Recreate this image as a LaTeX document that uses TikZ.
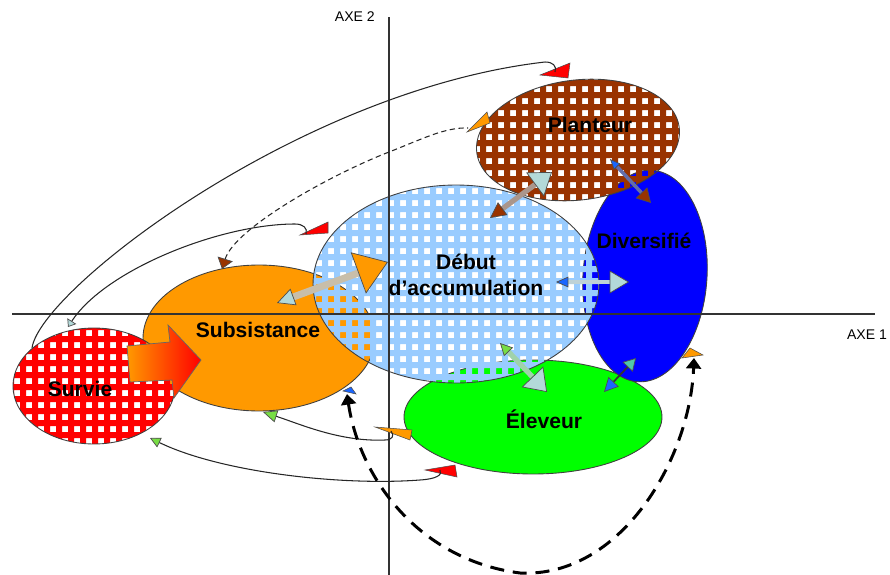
\documentclass[tikz,border=0pt]{standalone}
\usepackage{fontspec}
\setmainfont{Liberation Sans}
\usepackage{xcolor}
\usepackage{tikz}
\usetikzlibrary{shapes.geometric, arrows.meta}

\definecolor{orangesub}{HTML}{FF9900}
\definecolor{bleudeb}{HTML}{99CCFF}
\definecolor{brunplant}{HTML}{993300}
\definecolor{rougesurv}{HTML}{FF0000}
\definecolor{vertelev}{HTML}{00FF00}
\definecolor{bleudiv}{HTML}{0000FF}
\definecolor{tealhead}{HTML}{B3D9D9}
\definecolor{greenhead}{HTML}{77DD44}
\definecolor{bluehead}{HTML}{1A66FF}
\definecolor{edge}{HTML}{4D4D4D}

\begin{document}
\begin{tikzpicture}[
    x=0.02cm, y=-0.02cm,
    every node/.style={font=\fontsize{12}{15}\selectfont\bfseries, align=center},
    zone/.style={ellipse, draw=black!75, line width=0.5pt, inner sep=0pt},
    holes/.style={even odd rule},
    axis/.style={draw=black!80, line width=0.7pt},
    axlabel/.style={font=\fontsize{8}{9}\selectfont},
    link/.style={draw=black!85, line width=0.6pt},
    wedge/.style={draw=black!70, line width=0.3pt},
    shaft/.style={line width=#1}
]
\useasboundingbox (0,0) rectangle (890,575);

% Plain zones
\node (sub) [zone, fill=orangesub, minimum width=4.64cm, minimum height=2.92cm] at (259,338) {};
\node (elev) [zone, fill=vertelev, minimum width=5.16cm, minimum height=2.28cm] at (533,417) {};
\node (div) [zone, fill=bleudiv, minimum width=2.48cm, minimum height=4.24cm, rotate=-4] at (645,276) {};

% Zones with square holes
\coordinate (debc) at (456,284);
\begin{scope}
  \clip (debc) ellipse [x radius=2.86cm, y radius=1.98cm];
  \fill [holes, bleudeb] (313,185) rectangle (599,383)
    \foreach \gx in {316,328,...,592} {\foreach \gy in {188,200,...,380} {(\gx,\gy) rectangle ++(6,6)}};
\end{scope}
\node (deb) [zone, minimum width=5.72cm, minimum height=3.96cm] at (debc) {};

\coordinate (plantc) at (578,140);
\begin{scope}
  \clip [rotate around={7:(plantc)}] (plantc) ellipse [x radius=2.04cm, y radius=1.2cm];
  \fill [holes, brunplant] (470,70) rectangle (690,212)
    \foreach \gx in {474,486,...,684} {\foreach \gy in {74,86,...,204} {(\gx,\gy) rectangle ++(6,6)}};
\end{scope}
\node (plant) [zone, minimum width=4.08cm, minimum height=2.4cm, rotate=7] at (plantc) {};

\coordinate (survc) at (94,386);
\begin{scope}
  \clip (survc) ellipse [x radius=1.62cm, y radius=1.16cm];
  \fill [holes, rougesurv] (10,325) rectangle (178,447)
    \foreach \gx in {14,26,...,170} {\foreach \gy in {330,342,...,438} {(\gx,\gy) rectangle ++(6,6)}};
\end{scope}
\node (surv) [zone, minimum width=3.24cm, minimum height=2.32cm] at (survc) {};

% Axes
\coordinate (ax2top) at (389,17);
\coordinate (ax2bot) at (389,575);
\coordinate (ax1left) at (12,314);
\coordinate (ax1right) at (875,314);
\draw [axis] (ax2bot) -- (ax2top);
\draw [axis] (ax1left) -- (ax1right);
\node (lax2) [axlabel, anchor=east] at (381,17) {AXE 2};
\node (lax1) [axlabel] at (867,335) {AXE 1};

% Survie -> Subsistance
\shadedraw [draw=black!60, line width=0.4pt, left color=orangesub, right color=rougesurv]
    (127,346) -- (170,342) -- (168,325) -- (201,360) -- (174,398) -- (172,380) -- (130,382) -- cycle;

% End points of the long links
\coordinate (survtl) at (32,348);
\coordinate (planttop) at (555,72);
\coordinate (survtop) at (68,327);
\coordinate (debleft) at (306,234);
\coordinate (subtop) at (222,269);
\coordinate (plantleft) at (468,128);
\coordinate (subbot) at (263,412);
\coordinate (elevleft) at (391,431);
\coordinate (survbr) at (150,438);
\coordinate (elevbot) at (440,470);
\coordinate (subbr) at (347,394);
\coordinate (divbot) at (694,358);

% Wedges at the far ends
\filldraw [wedge, fill=rougesurv] (planttop) ++(-15,3) -- ++(30,-12) -- ++(-2,15) -- cycle;
\filldraw [wedge, fill=rougesurv] (debleft) ++(-6,1) -- ++(28,-13) -- ++(0,11) -- cycle;
\filldraw [wedge, fill=rougesurv] (elevbot) ++(-15,0) -- ++(30,-5) -- ++(2,12) -- cycle;
\filldraw [wedge, fill=orangesub] (plantleft) ++(-1,4) -- ++(20,-20) -- ++(3,11) -- cycle;
\filldraw [wedge, fill=orangesub] (elevleft) ++(-16,-4) -- ++(37,3) -- ++(-2,10) -- cycle;
\filldraw [wedge, fill=orangesub] (divbot) ++(-12,0) -- ++(8,-10) -- ++(13,7) -- cycle;
\filldraw [wedge, fill=bluehead] (subbr) ++(-4,-3) -- ++(8,-4) -- ++(5,7) -- cycle;

% Long links
\draw [link] (survtl) .. controls (40,290) and (300,90) .. (545,62) .. controls (553,62) and (557,66) .. (planttop);
\draw [link, dash pattern=on 3pt off 2pt,
    {Triangle[color=edge, line width=0.4pt, width=9pt, length=6pt, fill=brunplant]}-]
    (subtop) .. controls (235,228) and (330,175) .. (389,152) .. controls (420,140) and (445,127) .. (plantleft);
\draw [link, {Triangle[color=edge, line width=0.4pt, width=6pt, length=4pt, fill=tealhead]}-]
    (survtop) .. controls (105,270) and (220,224) .. (295,224) .. controls (303,224) and (308,228) .. (debleft);
\draw [link, {Triangle[color=edge, line width=0.4pt, width=7pt, length=8pt, fill=greenhead]}-]
    (subbot) .. controls (300,424) and (340,442) .. (385,440) .. controls (392,440) and (395,436) .. (elevleft);
\draw [link, {Triangle[color=edge, line width=0.4pt, width=6pt, length=6pt, fill=greenhead]}-]
    (survbr) .. controls (220,472) and (340,486) .. (420,480) .. controls (436,479) and (443,475) .. (elevbot);
\draw [line width=1.7pt, dash pattern=on 8pt off 5pt,
    {Triangle[width=8.5pt, length=6pt]}-{Triangle[width=8.5pt, length=6pt]}]
    (subbr) .. controls (360,480) and (420,560) .. (520,573) .. controls (620,578) and (690,460) .. (divbot);

% Two-headed exchanges
\coordinate (subdeb1) at (277,303);
\coordinate (subdeb2) at (388,262);
\coordinate (plantdeb1) at (490,218);
\coordinate (plantdeb2) at (552,172);
\coordinate (plantdiv1) at (610,159);
\coordinate (plantdiv2) at (651,203);
\coordinate (debdiv1) at (556,282);
\coordinate (debdiv2) at (629,282);
\coordinate (debelev1) at (500,343);
\coordinate (debelev2) at (547,392);
\coordinate (elevdiv1) at (604,392);
\coordinate (elevdiv2) at (636,358);

\draw [shaft=4pt, color={rgb,255:red,200;green,190;blue,170},
    {Triangle[color=edge, line width=0.4pt, width=10pt, length=10pt, fill=tealhead]}-{Triangle[color=edge, line width=0.4pt, width=25pt, length=18pt, fill=orangesub]}]
    (subdeb1) -- (subdeb2);
\draw [shaft=3pt, color={rgb,255:red,170;green,150;blue,140},
    {Triangle[color=edge, line width=0.4pt, width=9pt, length=9pt, fill=brunplant]}-{Triangle[color=edge, line width=0.4pt, width=17pt, length=12pt, fill=tealhead]}]
    (plantdeb1) -- (plantdeb2);
\draw [shaft=2pt, color={rgb,255:red,100;green,110;blue,170},
    {Triangle[color=edge, line width=0.4pt, width=5pt, length=6pt, fill=bluehead]}-{Triangle[color=edge, line width=0.4pt, width=9pt, length=8pt, fill=brunplant]}]
    (plantdiv1) -- (plantdiv2);
\draw [shaft=2pt, color={rgb,255:red,190;green,210;blue,215},
    {Triangle[color=edge, line width=0.4pt, width=6pt, length=7pt, fill=bluehead]}-{Triangle[color=edge, line width=0.4pt, width=13pt, length=11pt, fill=tealhead]}]
    (debdiv1) -- (debdiv2);
\draw [shaft=3pt, color={rgb,255:red,160;green,210;blue,170},
    {Triangle[color=edge, line width=0.4pt, width=7pt, length=7pt, fill=greenhead]}-{Triangle[color=edge, line width=0.4pt, width=17pt, length=12pt, fill=tealhead]}]
    (debelev1) -- (debelev2);
\draw [shaft=1pt, color=black!80,
    {Triangle[color=edge, line width=0.4pt, width=8pt, length=8pt, fill=bluehead]}-{Triangle[color=edge, line width=0.4pt, width=8pt, length=7pt, fill={rgb,255:red,80;green,200;blue,170}]}]
    (elevdiv1) -- (elevdiv2);

% Labels
\node (tsurv) at (80,389) {Survie};
\node (tsub) at (258,330) {Subsistance};
\node (tdeb) at (466,275) {Début\\d’accumulation};
\node (tplant) at (590,125) {Planteur};
\node (tdiv) at (644,241) {Diversifié};
\node (telev) at (544,419) {Éleveur};

\end{tikzpicture}
\end{document}
